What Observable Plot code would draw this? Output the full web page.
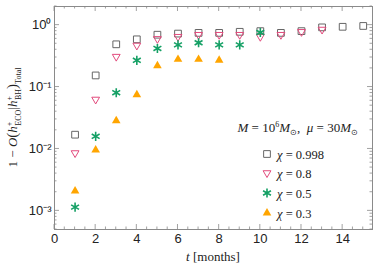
<!DOCTYPE html>
<html><head><meta charset="utf-8">
<script src="https://cdn.jsdelivr.net/npm/d3@7"></script>
<script src="https://cdn.jsdelivr.net/npm/@observablehq/plot@0.6"></script>
<style>body{margin:0;background:#fff}</style>
</head><body><div id="chart"></div>
<script>
const months = [1,2,3,4,5,6,7,8,9,10,11,12,13,14,15];
const chi0998 = [0.017,0.154,0.49,0.59,0.70,0.73,0.75,0.75,0.78,0.80,0.75,0.80,0.92,0.94,0.97];
const chi08   = [0.0086,0.063,0.31,0.47,0.60,0.65,0.70,0.70,0.70,0.65,0.70,0.78,0.85];
const chi05   = [0.00115,0.016,0.081,0.27,0.42,0.48,0.52,0.48,0.48,0.76];
const chi03   = [0.0021,0.0096,0.0285,0.075,0.22,0.28,0.28,0.27];
const seriesLabels = ["0.998","0.8","0.5","0.3"];
const xTicks = [0,2,4,6,8,10,12,14];
const yTicks = [1e-3,1e-2,1e-1,1];
const yTickLabels = ["10⁻³","10⁻²","10⁻¹","10⁰"];

const rows = (vals) => vals.map((v,i)=>({t: months[i], v}));
const d0 = rows(chi0998), d1 = rows(chi08), d2 = rows(chi05), d3s = rows(chi03);

const styles = [
  {symbol:"square", r:3.8, stroke:"#666", fill:"none", strokeWidth:1},
  {symbol:"triangle", r:2.9, rotate:180, stroke:"#e24a7c", fill:"none", strokeWidth:1},
  {symbol:"asterisk", r:4.3, stroke:"#15a065", fill:"none", strokeWidth:1.6},
  {symbol:"triangle", r:3.2, fill:"#ffa500", stroke:"none"}
];

const plot = Plot.plot({
  width:374, height:267,
  marginLeft:54, marginRight:2, marginTop:6, marginBottom:38,
  style:{fontFamily:"'Liberation Sans', Arial, sans-serif", fontSize:"13px", color:"#222", background:"#fff"},
  x:{domain:[0,15.45]},
  y:{type:"log", domain:[5e-4,2]},
  marks:[
    Plot.axisX({ticks:xTicks, tickSize:0, tickPadding:4, label:null, fontSize:13}),
    Plot.axisY({ticks:yTicks, tickSize:0, tickPadding:3, label:null, fontSize:13,
      tickFormat:(d)=>yTickLabels[yTicks.indexOf(d)]}),
    Plot.dot(d0, {x:"t", y:"v", ...styles[0]}),
    Plot.dot(d1, {x:"t", y:"v", ...styles[1]}),
    Plot.dot(d2, {x:"t", y:"v", ...styles[2]}),
    Plot.dot(d3s, {x:"t", y:"v", ...styles[3]}),
    Plot.frame({stroke:"#8a8a8a", strokeWidth:1})
  ]
});
document.getElementById("chart").appendChild(plot);

const svg = d3.select(plot);
const xs = plot.scale("x"), ys = plot.scale("y");
const L = 54, R = 374-2, T = 6, B = 267-38;
const tg = svg.append("g").attr("stroke","#8a8a8a").attr("stroke-width",0.8);
for (let k=0; k<=30; k++) {
  const v = k*0.5; const px = xs.apply(v);
  if (px > R) continue;
  const len = (k % 4 === 0) ? 5 : 2.5;
  tg.append("line").attr("x1",px).attr("x2",px).attr("y1",B).attr("y2",B-len);
  tg.append("line").attr("x1",px).attr("x2",px).attr("y1",T).attr("y2",T+len);
}
for (let e=-4; e<=0; e++) {
  for (let m=1; m<=9; m++) {
    const v = m*Math.pow(10,e);
    if (v < 5e-4 || v > 2) continue;
    const py = ys.apply(v);
    const len = m===1 ? 5 : 2.5;
    tg.append("line").attr("x1",L).attr("x2",L+len).attr("y1",py).attr("y2",py);
    tg.append("line").attr("x1",R).attr("x2",R-len).attr("y1",py).attr("y2",py);
  }
}
const serif = "'Liberation Serif', 'Times New Roman', serif";
const xt = svg.append("text").attr("x",(L+R)/2).attr("y",261).attr("text-anchor","middle")
  .attr("font-family",serif).attr("font-size",13).attr("fill","#222");
xt.append("tspan").attr("font-style","italic").text("t");
xt.append("tspan").text(" [months]");

const yt = svg.append("text").attr("transform",`translate(17,${(T+B)/2}) rotate(-90)`)
  .attr("text-anchor","middle").attr("font-family",serif).attr("font-size",13).attr("fill","#222");
yt.append("tspan").text("1 − ");
yt.append("tspan").attr("font-style","italic").text("O");
yt.append("tspan").attr("font-size",15).text("(");
yt.append("tspan").attr("font-style","italic").text("h");
yt.append("tspan").attr("font-size",8).attr("dy",-5).text("+");
yt.append("tspan").attr("font-size",8).attr("dy",9).attr("dx",-4).text("ECO");
yt.append("tspan").attr("dy",-4).text("|");
yt.append("tspan").attr("font-style","italic").text("h");
yt.append("tspan").attr("font-size",8).attr("dy",-5).text("+");
yt.append("tspan").attr("font-size",8).attr("dy",9).attr("dx",-4).text("BH");
yt.append("tspan").attr("font-size",15).attr("dy",-4).text(")");
yt.append("tspan").attr("font-size",8).attr("dy",4).text("Total");

const ann = svg.append("text").attr("x",358).attr("y",132).attr("text-anchor","end")
  .attr("font-family",serif).attr("font-size",13).attr("fill","#222");
ann.append("tspan").attr("font-style","italic").text("M");
ann.append("tspan").text(" = 10");
ann.append("tspan").attr("font-size",8).attr("dy",-5).text("6");
ann.append("tspan").attr("dy",5).attr("font-style","italic").text("M");
ann.append("tspan").attr("font-size",8).attr("dy",3).text("⊙");
ann.append("tspan").attr("dy",-3).text(",  ");
ann.append("tspan").attr("font-style","italic").text("μ");
ann.append("tspan").text(" = 30");
ann.append("tspan").attr("font-style","italic").text("M");
ann.append("tspan").attr("font-size",8).attr("dy",3).text("⊙");

const legY = [154,173,193,213];
const symMap = {square:d3.symbolSquare, triangle:d3.symbolTriangle, asterisk:d3.symbolAsterisk};
styles.forEach((s,i)=>{
  const g = svg.append("g").attr("transform",`translate(267,${legY[i]}) rotate(${s.rotate||0})`);
  g.append("path").attr("d", d3.symbol(symMap[s.symbol], Math.PI*s.r*s.r)())
    .attr("fill",s.fill).attr("stroke",s.stroke).attr("stroke-width",s.strokeWidth||0);
  const t = svg.append("text").attr("x",277).attr("y",legY[i]+4.5).attr("text-anchor","start")
    .attr("font-family",serif).attr("font-size",12.5).attr("fill","#222");
  t.append("tspan").attr("font-style","italic").text("χ");
  t.append("tspan").text(" = " + seriesLabels[i]);
});
</script>
</body></html>
